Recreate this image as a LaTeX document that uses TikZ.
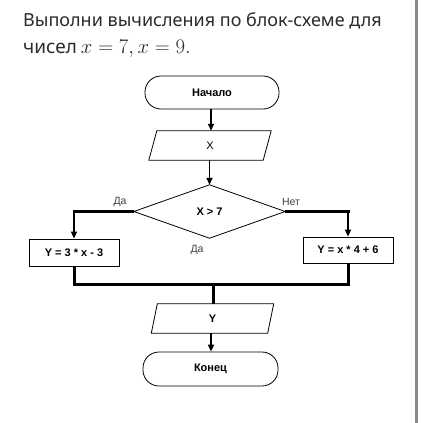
\documentclass[tikz,border=0pt]{standalone}
\usepackage{fontspec}
\setmainfont{Noto Sans}
\newfontfamily\diagfont{Liberation Sans}
\usetikzlibrary{arrows.meta}
\definecolor{titlecol}{HTML}{2B2B2B}
\definecolor{barcol}{HTML}{8A8A8A}
\definecolor{labcol}{HTML}{404040}
\tikzset{
  term/.style={draw, line width=0.8pt, rounded corners=16pt, inner sep=0pt, font=\diagfont\bfseries\fontsize{11}{13}\selectfont},
  boxnode/.style={draw, line width=0.8pt, inner sep=0pt, font=\diagfont\bfseries\fontsize{11}{13}\selectfont},
  ghost/.style={inner sep=0pt, font=\diagfont\bfseries\fontsize{11}{13}\selectfont},
  outline/.style={line width=0.8pt},
  arr/.style={line width=1.8pt, -{Triangle[length=7pt,width=6pt]}},
  thickline/.style={line width=3pt},
  lab/.style={font=\diagfont\fontsize{10.5}{12}\selectfont, text=labcol, inner sep=0pt},
  ttl/.style={anchor=base west, inner sep=0pt, text=titlecol, font=\fontsize{18}{20}\selectfont}
}
\begin{document}
\begin{tikzpicture}[x=1pt,y=-1pt]
\useasboundingbox (0,0) rectangle (422,423);
\fill[white] (0,0) rectangle (422,423);
\fill[barcol] (415,0) rectangle (418,423);

\node[ttl] (t1) at (23,27) {Выполни вычисления по блок-схеме для};
\node[ttl, font=\fontsize{19}{21}\selectfont] (t2) at (23,53) {чисел\hspace{4pt}\fontsize{19.5}{22}\selectfont$x = 7, x = 9.$};

\node[term, minimum width=134pt, minimum height=33pt] (start) at (212,92.5) {Начало};
\node[ghost, minimum width=114pt, minimum height=29pt, font=\diagfont\fontsize{11}{13}\selectfont] (xin) at (210,145.5) {X};
\draw[outline] ([xshift=4pt]xin.north west) -- ([xshift=4pt]xin.north east) -- ([xshift=-4pt]xin.south east) -- ([xshift=-4pt]xin.south west) -- cycle;

\node[ghost, minimum width=151pt, minimum height=53pt] (dia) at (209.5,211.5) {X > 7};
\draw[outline] (dia.north) -- (dia.east) -- (dia.south) -- (dia.west) -- cycle;

\node[boxnode, minimum width=90pt, minimum height=27pt] (lbox) at (74,252.5) {Y = 3 * x - 3};
\node[boxnode, minimum width=90pt, minimum height=26pt] (rbox) at (348,250) {Y = x * 4 + 6};

\node[ghost, minimum width=116pt, minimum height=29pt] (yout) at (212.5,318.5) {Y};
\draw[outline] ([xshift=3pt]yout.north west) -- ([xshift=3pt]yout.north east) -- ([xshift=-3pt]yout.south east) -- ([xshift=-3pt]yout.south west) -- cycle;

\node[term, minimum width=135pt, minimum height=34pt] (fin) at (210.5,369) {Конец};

\coordinate (join) at (213,284);

\draw[arr] (start.south -| 211,0) -- (xin.north -| 211,0);
\draw[arr] (xin.south -| 209.5,0) -- (dia.north);
\draw[thickline] (dia.west) -- ([xshift=-1.5pt]lbox.north |- dia.west);
\draw[arr] ([yshift=-1.5pt]lbox.north |- dia.west) -- (lbox.north);
\draw[thickline] (dia.east) -- ([xshift=1.5pt]rbox.north |- dia.east);
\draw[arr] ([yshift=-1.5pt]rbox.north |- dia.east) -- (rbox.north);
\draw[thickline] (lbox.south) -- (lbox.south |- join) -- (rbox.south |- join) -- (rbox.south);
\draw[thickline] (join) -- (yout.north -| join);
\draw[arr] (yout.south -| 211,0) -- (fin.north -| 211,0);

\node[lab] (da1) at (120,202) {Да};
\node[lab] (net) at (291,202) {Нет};
\node[lab] (da2) at (197,250) {Да};
\end{tikzpicture}
\end{document}
